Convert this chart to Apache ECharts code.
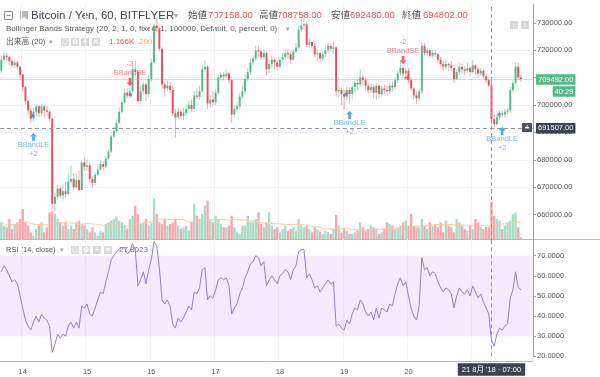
<!DOCTYPE html>
<html>
<head>
<meta charset="utf-8">
<script src="https://cdn.jsdelivr.net/npm/echarts@6/dist/echarts.min.js"></script>
<style>
  html, body { margin: 0; padding: 0; background: #fff; }
  #chart { width: 600px; height: 377px; }
</style>
</head>
<body>
<div id="chart"></div>
<script>
// hourly bars starting 13 Aug 16:00, prices in thousand yen
const firstOpen = 712.5;
const closes = [
  716.5, 718.0, 717.5, 716.0, 714.5, 715.5, 714.0, 711.0, 706.5, 701.5,
  698.0, 695.0, 697.5, 699.5, 697.0, 699.5, 698.0, 697.5, 695.0, 664.0,
  666.5, 669.5, 667.0, 668.5, 667.5, 672.0, 673.0, 670.0, 672.5, 669.0,
  679.0, 677.5, 678.0, 673.0, 671.5, 674.5, 676.5, 678.5, 677.5, 680.5,
  683.0, 688.5, 690.5, 693.5, 697.5, 701.0, 704.5, 703.5, 705.0, 713.0,
  712.0, 701.5, 705.0, 707.5, 704.0, 709.5, 715.5, 729.0, 728.0, 720.5,
  707.5, 706.0, 707.0, 705.5, 697.0, 695.5, 697.5, 696.0, 697.0, 698.5,
  700.0, 698.5, 703.5, 703.0, 705.0, 713.0, 714.0, 700.5, 702.0, 701.0,
  704.5, 710.0, 711.0, 710.5, 711.5, 709.0, 696.5, 698.5, 699.5, 703.0,
  705.0, 709.5, 712.0, 715.5, 717.0, 720.0, 719.5, 717.5, 719.0, 713.0,
  715.0, 716.5, 715.5, 714.0, 716.5, 717.5, 719.0, 718.5, 716.5, 719.5,
  721.0, 727.5, 729.0, 729.5, 722.0, 723.0, 721.5, 718.5, 719.0, 717.0,
  718.5, 720.0, 721.5, 720.5, 721.0, 705.0, 705.5, 704.0, 703.0, 705.5,
  704.0, 706.5, 708.0, 707.5, 710.0, 709.0, 707.0, 705.5, 706.5, 704.5,
  707.0, 704.0, 706.0, 705.5, 705.0, 707.0, 706.5, 709.0, 711.5, 713.5,
  711.5, 712.5, 709.0, 706.0, 703.5, 702.5, 705.0, 721.5, 719.0, 720.0,
  718.0, 719.0, 718.5, 716.5, 715.0, 714.0, 715.0, 714.5, 713.5, 709.5,
  712.0, 714.0, 713.0, 712.5, 713.5, 712.0, 714.5, 713.0, 711.5, 712.5,
  710.5, 709.0, 707.158, 694.802, 693.0, 695.5, 697.0, 696.5, 697.5, 698.0,
  705.5, 708.0, 714.0, 710.0, 709.492
];
const highs = [
  718, 719.5, 719, 718, 717, 716.5, 716, 714.5, 711.5, 707,
  702, 699, 699, 700.5, 700, 700.5, 700, 699.5, 698, 695.5,
  668, 671, 670.5, 671, 672, 675, 678, 675, 675, 676,
  680, 681, 680, 679, 674, 675.5, 678, 680, 679.5, 681.5,
  684, 689.5, 692, 695, 699, 702, 706, 706, 706.5, 715.5,
  716, 712.5, 707, 708.5, 708, 711, 717, 730, 732, 728.5,
  721, 708.5, 709, 708.5, 707, 698.5, 699, 698.5, 699, 700,
  701.5, 702, 705, 706, 707, 714.5, 716.5, 714.5, 703.5, 705,
  706, 711, 712, 712, 713, 712, 709.5, 700, 701, 704.5,
  707, 711, 713.5, 717, 718.5, 721.5, 721.5, 720.5, 720.5, 719.5,
  716.5, 718, 717, 716.5, 717.5, 719, 720.5, 720.5, 719.5, 720.5,
  722.5, 729, 731.5, 733, 730.5, 724.5, 723.5, 722.5, 720.5, 719.5,
  719.5, 721.5, 722.5, 722.5, 723, 721.5, 707, 706.5, 705.5, 706.5,
  706.5, 707.5, 709, 709.5, 713, 711, 710, 708, 708, 707.5,
  708, 707.5, 707, 707.5, 707, 708, 708.5, 710, 712.5, 716,
  714.5, 714, 713.5, 710, 706.5, 705, 706, 723, 722.5, 721,
  720.5, 720, 720, 719, 717.5, 716, 716.5, 715.5, 716, 714.5,
  713, 715.5, 715, 714, 715.5, 714, 716.5, 715, 714, 713.5,
  713, 711.5, 710, 708.758, 696.5, 696.5, 698, 698, 698.5, 699,
  706.5, 709, 715.5, 715.5, 711
];
const lows = [
  711.5, 715.5, 716, 714.5, 713.5, 713.5, 713, 710, 705, 700,
  696.5, 693.5, 694, 696, 695.5, 696, 695.5, 696, 694, 662,
  661.2, 665.5, 666, 665, 666, 667, 671, 669, 669.5, 668.5,
  669, 676, 676, 671.5, 670, 670.5, 674, 676, 676, 677,
  680, 682.5, 688, 690, 693, 697, 700.5, 702.5, 702.5, 704.5,
  710.5, 700.5, 700.5, 704, 701.5, 703, 708.5, 715, 726.5, 719.5,
  706, 703, 705, 704.5, 696, 688, 694.5, 695, 694.5, 696,
  697.5, 697.5, 698.5, 702, 702, 704.5, 712, 698.5, 699, 699.5,
  700, 704, 709, 709, 710, 708, 693.5, 695.5, 697.5, 698.5,
  702, 704, 708.5, 711, 714.5, 716, 717.5, 716.5, 716.5, 711,
  711.5, 713.5, 713, 712.5, 713, 715.5, 716.5, 717, 715, 716,
  719, 720.5, 726.5, 727.5, 721, 721, 720.5, 717.5, 716, 715.5,
  716, 717.5, 719, 719.5, 718.5, 703, 702.5, 700, 698.5, 701.5,
  700.5, 702, 704.5, 705.5, 706.5, 707, 705.5, 704, 704.5, 702.5,
  702, 702.5, 703, 704, 703.5, 704, 705, 705.5, 708, 710.5,
  710, 709.5, 708, 705, 702, 700.5, 701.5, 704, 718, 717.5,
  717, 717, 717.5, 715.5, 714, 712.5, 713, 712.5, 712.5, 708,
  709, 711, 711.5, 711, 711.5, 710.5, 711.5, 711, 710, 710.5,
  709.5, 708, 706.5, 692.48, 691, 692.5, 694.5, 695.5, 695.5, 696.5,
  697, 704.5, 707.5, 709, 708.5
];
const volumes = [
  520, 416, 364, 624, 312, 468, 520, 624, 936, 520,
  416, 208, 104, 312, 416, 520, 208, 364, 832, 853,
  780, 624, 520, 416, 520, 312, 416, 312, 520, 572,
  468, 416, 312, 208, 364, 208, 104, 260, 208, 468,
  520, 572, 624, 707, 572, 520, 416, 312, 624, 728,
  1040, 780, 468, 520, 624, 416, 520, 1269, 780, 520,
  468, 624, 416, 468, 520, 624, 416, 312, 364, 416,
  260, 520, 1092, 728, 624, 780, 1040, 1196, 624, 520,
  728, 624, 468, 364, 364, 416, 728, 364, 208, 156,
  416, 416, 728, 520, 520, 624, 832, 468, 364, 520,
  832, 416, 312, 364, 208, 312, 416, 260, 312, 364,
  260, 624, 416, 364, 416, 312, 208, 364, 291, 229,
  156, 260, 208, 156, 312, 749, 416, 208, 312, 260,
  156, 156, 208, 260, 520, 364, 260, 312, 416, 364,
  312, 156, 208, 312, 520, 468, 416, 312, 364, 416,
  520, 572, 416, 780, 416, 364, 364, 624, 416, 312,
  520, 416, 468, 364, 520, 208, 572, 416, 364, 208,
  624, 520, 416, 312, 260, 416, 312, 624, 520, 364,
  312, 364, 364, 1166, 728, 624, 572, 312, 416, 520,
  572, 780, 832, 364, 52
];
const rsi = [
  62, 65, 63, 60, 57, 58, 56, 50, 44, 38,
  35, 33, 37, 40, 37, 41, 39, 38, 35, 22,
  26, 31, 29, 31, 30, 35, 37, 34, 37, 34,
  45, 44, 46, 41, 40, 44, 48, 52, 51, 57,
  62, 68, 70, 72, 73, 74, 74, 71, 72, 76,
  73, 55, 58, 62, 56, 63, 68, 77, 75, 64,
  48, 46, 48, 45, 36, 34, 39, 37, 39, 42,
  45, 43, 52, 51, 54, 63, 64, 48, 50, 49,
  53, 58, 59, 58, 59, 55, 41, 44, 46, 51,
  54, 59, 62, 66, 67, 70, 69, 65, 67, 55,
  58, 60, 58, 56, 60, 61, 63, 62, 58, 63,
  65, 72, 73, 73, 59, 61, 58, 54, 55, 52,
  54, 56, 58, 56, 57, 35, 36, 34, 33, 38,
  36, 41, 44, 43, 48, 46, 42, 40, 42, 38,
  44, 39, 44, 43, 42, 46, 45, 51, 56, 59,
  55, 57, 50, 44, 40, 38, 45, 69, 63, 64,
  60, 62, 61, 57, 54, 52, 54, 53, 51, 44,
  50, 54, 52, 51, 53, 50, 55, 52, 49, 51,
  47, 44, 41, 27.8023, 25, 31, 34, 33, 35, 36,
  49, 53, 62, 54, 53
];
const dayLabels = ['14', '15', '16', '17', '18', '19', '20'];
const priceTicks = [660000, 670000, 680000, 690000, 700000, 710000, 720000, 730000];
const rsiTicks = [20, 30, 40, 50, 60, 70];

// strategy signals: [bar index, price in thousand yen]
const longArrowIdx = [12, 130, 187];
const longArrowPrice = [688.3, 696.35, 690.5];
const longFlagIdx = [12, 129, 186];
const longFlagPrice = [696.1, 704.0, 696.65];
const shortArrowIdx = [48, 150];
const shortArrowPrice = [708.4, 716.4];
const shortFlagIdx = [48, 151];
const shortFlagPrice = [703.65, 709.96];

const crossIdx = 183;
const crossPrice = 691507;
const lastPrice = 709492;

const FONT = '"Liberation Sans", "Noto Sans CJK JP", sans-serif';
const UP = '#53b987';
const DOWN = '#eb4d5c';

const categories = [];
for (let k = 0; k < 199; k++) {
  const h = 16 + k;
  const day = 13 + Math.floor(h / 24);
  categories.push(day + ' ' + String(h % 24).padStart(2, '0') + ':00');
}
const isDayStart = (idx, val) => / 00:00$/.test(val);

const candles = closes.map((c, i) => {
  const o = i === 0 ? firstOpen : closes[i - 1];
  return [i, o * 1000, c * 1000, lows[i] * 1000, highs[i] * 1000];
});
const volData = volumes.map((v, i) => ({
  value: v,
  itemStyle: { color: candles[i][2] >= candles[i][1] ? '#a9dcc3' : '#f5a6ae' }
}));
const volMa = volumes.map((v, i) => {
  const s = volumes.slice(Math.max(0, i - 19), i + 1);
  return Math.round(s.reduce((a, b) => a + b, 0) / s.length);
});

function renderCandle(params, api) {
  const i = api.value(0);
  const o = api.value(1), c = api.value(2), l = api.value(3), h = api.value(4);
  const pH = api.coord([i, h]), pL = api.coord([i, l]);
  const pO = api.coord([i, o]), pC = api.coord([i, c]);
  const bw = api.size([1, 0])[0] * 0.72;
  const up = c >= o;
  return {
    type: 'group',
    children: [
      { type: 'line', shape: { x1: pH[0], y1: pH[1], x2: pL[0], y2: pL[1] },
        style: { stroke: up ? '#a3d6c3' : '#f4a7ae', lineWidth: 1 } },
      { type: 'rect', shape: { x: pH[0] - bw / 2, y: Math.min(pO[1], pC[1]), width: bw,
          height: Math.max(Math.abs(pO[1] - pC[1]), 1) },
        style: { fill: up ? UP : DOWN } }
    ]
  };
}

const upArrow = 'path://M4,0 L8,4 L5.5,4 L5.5,9 L2.5,9 L2.5,4 L0,4 Z';
const downArrow = 'path://M2.5,0 L5.5,0 L5.5,5 L8,5 L4,9 L0,5 L2.5,5 Z';

function txt(x, y, text, fill, size, extra) {
  return Object.assign({
    type: 'text', x: x, y: y, silent: true,
    style: { text: text, fill: fill, font: size + 'px ' + FONT, verticalAlign: 'middle' }
  }, extra || {});
}
function iconBox(x, y, glyph) {
  return {
    type: 'group', x: x, y: y, children: [
      { type: 'rect', shape: { x: 0, y: 0, width: 8, height: 8 }, style: { fill: '#d6d8dc' } },
      { type: 'text', x: 4, y: 4, style: { text: glyph, fill: '#fff', font: 'bold 7px ' + FONT,
          align: 'center', verticalAlign: 'middle' } }
    ]
  };
}

const chart = echarts.init(document.getElementById('chart'), null, { renderer: 'canvas' });
chart.setOption({
  animation: false,
  backgroundColor: '#fff',
  grid: [
    { left: 0, right: 67, top: 4.7, height: 237.3, outerBoundsMode: 'none' },
    { left: 0, right: 67, top: 190, height: 49, outerBoundsMode: 'none' },
    { left: 0, right: 67, top: 241.6, height: 114.7, outerBoundsMode: 'none' },
    { left: 0, right: 67, top: 242, height: 119, outerBoundsMode: 'none' }
  ],
  xAxis: [
    { type: 'category', gridIndex: 0, data: categories, boundaryGap: true,
      axisLine: { show: false }, axisTick: { show: false }, axisLabel: { show: false },
      splitLine: { show: true, interval: isDayStart, lineStyle: { color: '#eff2f6' } } },
    { type: 'category', gridIndex: 1, data: categories, boundaryGap: true, show: false },
    { type: 'category', gridIndex: 2, data: categories, boundaryGap: true, show: false },
    { type: 'category', gridIndex: 3, data: categories, boundaryGap: true,
      axisLine: { show: false },
      axisTick: { show: false },
      axisLabel: {
        interval: (idx, val) => isDayStart(idx, val) && dayLabels.includes(val.split(' ')[0]),
        formatter: val => val.split(' ')[0],
        color: '#555', fontSize: 7.5, fontFamily: FONT, margin: 7
      },
      splitLine: { show: true, interval: isDayStart, lineStyle: { color: '#eff2f6' } } }
  ],
  yAxis: [
    { type: 'value', gridIndex: 0, position: 'right', min: 650000, max: 736600, interval: 10000,
      axisLine: { show: true, lineStyle: { color: '#9a9da3' } },
      axisTick: { show: true, length: 3, customValues: priceTicks, lineStyle: { color: '#9a9da3' } },
      axisLabel: { customValues: priceTicks, formatter: v => v.toFixed(2), color: '#555',
        fontSize: 7.5, fontFamily: FONT, margin: 4 },
      splitLine: { show: true, showMinLine: false, showMaxLine: false, lineStyle: { color: '#eff2f6' } } },
    { type: 'value', gridIndex: 1, min: 0, max: 1530, show: false },
    { type: 'value', gridIndex: 2, position: 'right', min: 20, max: 77, interval: 10,
      axisLine: { show: true, lineStyle: { color: '#9a9da3' } },
      axisTick: { show: true, length: 3, customValues: rsiTicks, lineStyle: { color: '#9a9da3' } },
      axisLabel: { customValues: rsiTicks, formatter: v => v.toFixed(4), color: '#555',
        fontSize: 7.5, fontFamily: FONT, margin: 4 },
      splitLine: { show: false } },
    { type: 'value', gridIndex: 3, min: 0, max: 1, show: false }
  ],
  series: [
    { type: 'bar', name: 'volume', xAxisIndex: 1, yAxisIndex: 1, data: volData,
      barCategoryGap: '12%', z: 1 },
    { type: 'line', name: 'volume ma', xAxisIndex: 1, yAxisIndex: 1, data: volMa,
      symbol: 'none', lineStyle: { color: '#fcc9a4', width: 1 }, z: 2 },
    { type: 'custom', name: 'price', xAxisIndex: 0, yAxisIndex: 0, data: candles,
      renderItem: renderCandle, encode: { x: 0, y: [1, 2, 3, 4] }, clip: true, z: 3 },
    { type: 'scatter', name: 'long', xAxisIndex: 0, yAxisIndex: 0, z: 5,
      data: longArrowIdx.map((x, k) => [x, longArrowPrice[k] * 1000]),
      symbol: upArrow, symbolSize: [7, 8], itemStyle: { color: '#2196f3' },
      label: { show: true, position: 'bottom', distance: 0, formatter: 'BBandLE\n+2',
        color: '#55a7f2', fontSize: 7.5, lineHeight: 8.5, fontFamily: FONT, align: 'center' },
      markLine: {
        silent: true, symbol: ['none', 'none'], animation: false,
        data: [
          { xAxis: crossIdx, lineStyle: { color: '#9598a1', type: [4, 3], width: 1 }, label: { show: false } },
          { yAxis: crossPrice, lineStyle: { color: '#9598a1', type: [4, 3], width: 1 },
            label: { show: true, position: 'end', distance: 3, formatter: '691507.00',
              color: '#fff', backgroundColor: '#3c4250', padding: [2, 2, 1, 2],
              fontSize: 7.5, fontFamily: FONT } },
          { yAxis: lastPrice, lineStyle: { color: 'rgba(83,185,135,0.35)', type: 'solid', width: 1 },
            label: { show: true, position: 'end', distance: 3, padding: [13, 0, 0, 0],
              formatter: '{p|709492.00}\n{t|40:29}',
              rich: {
                p: { color: '#fff', backgroundColor: UP, padding: [2, 2, 1, 2], fontSize: 7.5, fontFamily: FONT, lineHeight: 12 },
                t: { color: '#fff', backgroundColor: UP, padding: [2, 2, 1, 2], fontSize: 7.5, fontFamily: FONT, lineHeight: 12, align: 'right' }
              } } }
        ]
      } },
    { type: 'scatter', name: 'long fill', xAxisIndex: 0, yAxisIndex: 0, z: 5,
      data: longFlagIdx.map((x, k) => [x, longFlagPrice[k] * 1000]),
      symbol: 'path://M0,0 L6,3 L0,6 Z', symbolSize: 4, itemStyle: { color: '#2196f3' } },
    { type: 'scatter', name: 'short', xAxisIndex: 0, yAxisIndex: 0, z: 5,
      data: shortArrowIdx.map((x, k) => [x, shortArrowPrice[k] * 1000]),
      symbol: downArrow, symbolSize: [7, 8], itemStyle: { color: '#f23645' },
      label: { show: true, position: 'top', distance: 1, formatter: '-2\nBBandSE',
        color: '#f0606a', fontSize: 7.5, lineHeight: 8.5, fontFamily: FONT, align: 'center' } },
    { type: 'scatter', name: 'short fill', xAxisIndex: 0, yAxisIndex: 0, z: 5,
      data: shortFlagIdx.map((x, k) => [x, shortFlagPrice[k] * 1000]),
      symbol: 'path://M6,0 L0,3 L6,6 Z', symbolSize: 4, itemStyle: { color: '#f23645' } },
    { type: 'line', name: 'RSI', xAxisIndex: 2, yAxisIndex: 2, data: rsi, symbol: 'none',
      lineStyle: { color: '#9a7bd0', width: 1 }, z: 3,
      markArea: { silent: true, itemStyle: { color: 'rgba(153,21,255,0.09)' },
        data: [[{ yAxis: 30 }, { yAxis: 70 }]] },
      markLine: { silent: true, symbol: ['none', 'none'],
        data: [{ xAxis: crossIdx }],
        lineStyle: { color: '#9598a1', type: [4, 3], width: 1 },
        label: { show: true, position: 'start', distance: 7, formatter: "21 8月 '18 · 07:00",
          color: '#fff', backgroundColor: '#3c4250', padding: [3, 4, 2, 4],
          fontSize: 7.5, fontFamily: FONT } } }
  ],
  graphic: [
    { type: 'line', shape: { x1: 0, y1: 239.5, x2: 600, y2: 239.5 }, style: { stroke: '#b8bbc2', lineWidth: 1 }, silent: true },
    { type: 'line', shape: { x1: 0, y1: 361.5, x2: 533, y2: 361.5 }, style: { stroke: '#b8bbc2', lineWidth: 1 }, silent: true },
    { type: 'rect', shape: { x: 4.5, y: 11.5, width: 8, height: 8 }, style: { fill: 'none', stroke: '#8c8c8c', lineWidth: 1 }, silent: true },
    { type: 'line', shape: { x1: 6.5, y1: 15.5, x2: 10.5, y2: 15.5 }, style: { stroke: '#8c8c8c', lineWidth: 1 }, silent: true },
    { type: 'polygon', shape: { points: [[20, 11], [28, 11], [28, 20], [24, 17], [20, 20]] }, style: { fill: '#b5b8bd' }, silent: true },
    txt(31, 15.5, 'Bitcoin / Yen, 60, BITFLYER', '#434651', 11.5),
    txt(174, 15.5, '▾', '#a0a3a8', 8),
    txt(188, 15.5, '始値', '#555', 9.5),
    txt(208, 15.5, '707158.00', '#ef5350', 9.5),
    txt(259, 15.5, '高値', '#555', 9.5),
    txt(277, 15.5, '708758.00', '#ef5350', 9.5),
    txt(331, 15.5, '安値', '#555', 9.5),
    txt(350, 15.5, '692480.00', '#ef5350', 9.5),
    txt(402, 15.5, '終値', '#555', 9.5),
    txt(423, 15.5, '694802.00', '#ef5350', 9.5),
    txt(6, 29, 'Bollinger Bands Strategy (20, 2, 1, 0, fixed, 1, 100000, Default, 0, percent, 0)', '#555', 8),
    txt(286, 29, '▾', '#a0a3a8', 7),
    txt(6, 42, '出来高 (20)', '#555', 7.8),
    txt(49, 42, '▾', '#a0a3a8', 7),
    iconBox(61, 38, '◎'), iconBox(71, 38, '⚙'), iconBox(81, 38, '+'), iconBox(92, 38, '✕'),
    txt(109, 42, '1.166K', '#ef5350', 8),
    txt(139, 42, '290', '#f7a35c', 8),
    iconBox(510, 21, '↓'), iconBox(521, 21, '↕'),
    { type: 'group', x: 522, y: 123, children: [
      { type: 'rect', shape: { x: 0, y: 0, width: 10, height: 9 }, style: { fill: '#4c525e' } },
      { type: 'text', x: 5, y: 4.5, style: { text: '+', fill: '#fff', font: 'bold 8px ' + FONT, align: 'center', verticalAlign: 'middle' } }
    ] },
    txt(6, 250, 'RSI (14, close)', '#555', 7.5),
    txt(60, 250, '▾', '#a0a3a8', 7),
    iconBox(71, 246, '◎'), iconBox(82, 246, '⚙'), iconBox(93, 246, '+'), iconBox(104, 246, '✕'),
    txt(119, 250, '27.8023', '#7e57c2', 8)
  ]
});
</script>
</body>
</html>
